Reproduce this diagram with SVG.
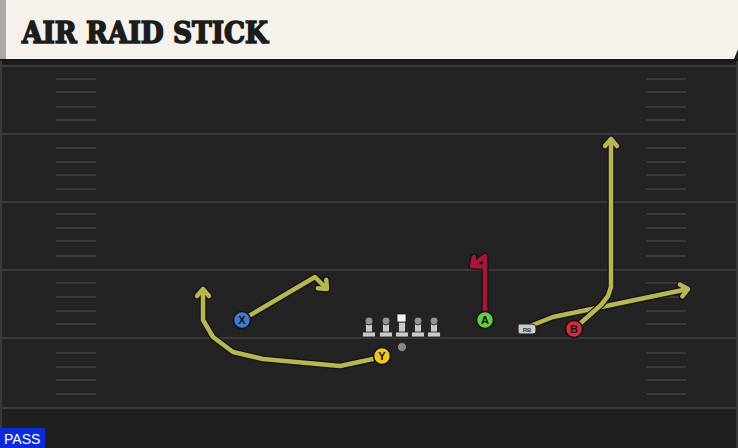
<svg xmlns="http://www.w3.org/2000/svg" width="738" height="448" viewBox="0 0 738 448">
<defs>
<style>
.yard{stroke:#393939;stroke-width:2}
.hash{stroke:#3a3a3a;stroke-width:2}
.ro{fill:none;stroke:#121212;stroke-width:7;stroke-linejoin:round}
.ry{fill:none;stroke:#b7b653;stroke-width:4.5;stroke-linejoin:round}
.rr{fill:none;stroke:#a9143b;stroke-width:4.5;stroke-linejoin:round}
.pc{stroke:#111;stroke-width:1.5}
.pl{font-family:"Liberation Sans",Arial,sans-serif;font-weight:bold;font-size:11px;fill:#111;text-anchor:middle}
.ol{fill:#c9c9c9;stroke:#1a1a1a;stroke-width:0.8}
</style>
<marker id="mo" markerUnits="userSpaceOnUse" orient="auto" overflow="visible" markerWidth="1" markerHeight="1" refX="0" refY="0">
<path d="M-7,-6 L0,0 L-7,6" fill="none" stroke="#121212" stroke-width="7" stroke-linejoin="round" stroke-linecap="round"/>
</marker>
<marker id="my" markerUnits="userSpaceOnUse" orient="auto" overflow="visible" markerWidth="1" markerHeight="1" refX="0" refY="0">
<path d="M-7,-6 L0,0 L-7,6" fill="none" stroke="#b7b653" stroke-width="4.5" stroke-linejoin="round" stroke-linecap="round"/>
</marker>
<marker id="mr" markerUnits="userSpaceOnUse" orient="auto" overflow="visible" markerWidth="1" markerHeight="1" refX="0" refY="0">
<path d="M-7,-6 L0,0 L-7,6" fill="none" stroke="#a9143b" stroke-width="4.5" stroke-linejoin="round" stroke-linecap="round"/>
</marker>
<g id="lineman">
<rect x="-3.5" y="2" width="7" height="11" class="ol"/>
<rect x="-6.5" y="11" width="13" height="5" rx="1" class="ol"/>
<circle cx="0" cy="0" r="4" fill="#939393" stroke="#1a1a1a" stroke-width="0.8"/>
</g>
</defs>

<!-- field -->
<rect x="0" y="0" width="738" height="448" fill="#232323"/>
<rect x="0" y="408" width="738" height="40" fill="#202020"/>
<rect x="0" y="59" width="738" height="5" fill="#1b1b1b"/>
<rect x="0" y="60" width="2" height="388" fill="#383838"/>
<rect x="736" y="60" width="2" height="388" fill="#383838"/>

<g id="yardlines">
<line class="yard" x1="0" y1="66" x2="738" y2="66"/>
<line class="yard" x1="0" y1="134" x2="738" y2="134"/>
<line class="yard" x1="0" y1="202" x2="738" y2="202"/>
<line class="yard" x1="0" y1="270" x2="738" y2="270"/>
<line class="yard" x1="0" y1="338" x2="738" y2="338"/>
<line class="yard" x1="0" y1="408" x2="738" y2="408"/>
</g>
<g id="hashes">
<path class="hash" d="M56,79H96M56,92H96M56,107H96M56,120H96M56,148H96M56,162H96M56,175H96M56,189H96M56,214H96M56,228H96M56,241H96M56,256H96M56,283H96M56,297H96M56,311H96M56,324H96M56,353H96M56,367H96M56,380H96M56,394H96"/>
<path class="hash" d="M646,79H686M646,92H686M646,107H686M646,120H686M646,148H686M646,162H686M646,175H686M646,189H686M646,214H686M646,228H686M646,241H686M646,256H686M646,283H686M646,297H686M646,311H686M646,324H686M646,353H686M646,367H686M646,380H686M646,394H686"/>
</g>

<!-- title banner -->
<g id="title">
<path d="M0,0 H738 V49 L734,59 H0 Z" fill="#f4f2eb"/>
<rect x="0" y="0" width="6" height="59" fill="#a9a9a9"/>
<rect x="0" y="59" width="738" height="2" fill="#151515"/>
<text x="22" y="43" font-family="'DejaVu Serif','Liberation Serif',serif" font-weight="bold" font-size="29" fill="#1c1c1c" stroke="#1c1c1c" stroke-width="1.6" stroke-linejoin="miter" textLength="246" lengthAdjust="spacingAndGlyphs">AIR RAID STICK</text>
</g>

<!-- connectors -->
<g id="connectors">
<path class="ro" marker-end="url(#mo)" d="M382,357 L340,366 L263,359 L233,352 L213,337 L203,320 L203,289"/>
<path class="ry" marker-end="url(#my)" d="M382,357 L340,366 L263,359 L233,352 L213,337 L203,320 L203,289"/>
<path class="ro" marker-end="url(#mo)" d="M242,320 L315,277 L327,289"/>
<path class="ry" marker-end="url(#my)" d="M242,320 L315,277 L327,289"/>
<path class="ro" marker-end="url(#mo)" d="M485,319 L485,256 L472,266"/>
<path class="rr" marker-end="url(#mr)" d="M485,319 L485,256 L472,266"/>
<path class="ro" marker-end="url(#mo)" d="M530,326 L553,317 L688,289"/>
<path class="ry" marker-end="url(#my)" d="M530,326 L553,317 L688,289"/>
<path class="ro" marker-end="url(#mo)" d="M574,329 L601,305 L608,296 L611,287 L611,139"/>
<path class="ry" marker-end="url(#my)" d="M574,329 L601,305 L608,296 L611,287 L611,139"/>
</g>

<!-- offensive line -->
<g id="LT"><use href="#lineman" x="369" y="321"/></g>
<g id="LG"><use href="#lineman" x="386" y="321"/></g>
<g id="C">
<rect x="398.5" y="322" width="7" height="11" class="ol"/>
<rect x="395.5" y="332" width="13" height="5" rx="1" class="ol"/>
<rect x="397" y="314" width="9" height="8" fill="#f6f6f6" stroke="#1a1a1a" stroke-width="0.8"/>
</g>
<g id="RG"><use href="#lineman" x="418" y="321"/></g>
<g id="RT"><use href="#lineman" x="434" y="321"/></g>
<g id="QB"><circle cx="402" cy="347" r="4.5" fill="#8a8a8a" stroke="#1a1a1a" stroke-width="0.8"/></g>

<!-- skill players -->
<g id="X"><circle cx="242" cy="320" r="8.5" fill="#3e7ad6" class="pc"/><text x="242" y="324" class="pl">X</text></g>
<g id="Y"><circle cx="382" cy="356" r="8.5" fill="#f0c423" class="pc"/><text x="382" y="360" class="pl">Y</text></g>
<g id="A"><circle cx="485" cy="320" r="8.5" fill="#64cc45" class="pc"/><text x="485" y="324" class="pl">A</text></g>
<g id="RB"><path d="M519,324 H531 Q536,324 536,328 V331 Q536,334 533,334 H520 Q518,334 518,332 V326 Q518,324 519,324 Z" fill="#cbcbcb" stroke="#1a1a1a" stroke-width="1"/><text x="527" y="331.5" font-family="'Liberation Sans',Arial,sans-serif" font-weight="bold" font-size="6" fill="#333" text-anchor="middle">RB</text></g>
<g id="B"><circle cx="574" cy="329" r="8.5" fill="#d62b3c" class="pc"/><text x="574" y="333" class="pl">B</text></g>

<!-- play type -->
<g id="pass">
<rect x="0" y="428" width="45" height="20" fill="#0b2bd8"/>
<text x="4" y="444" font-family="'Liberation Sans',Arial,sans-serif" font-size="14" fill="#ffffff">PASS</text>
</g>
</svg>
